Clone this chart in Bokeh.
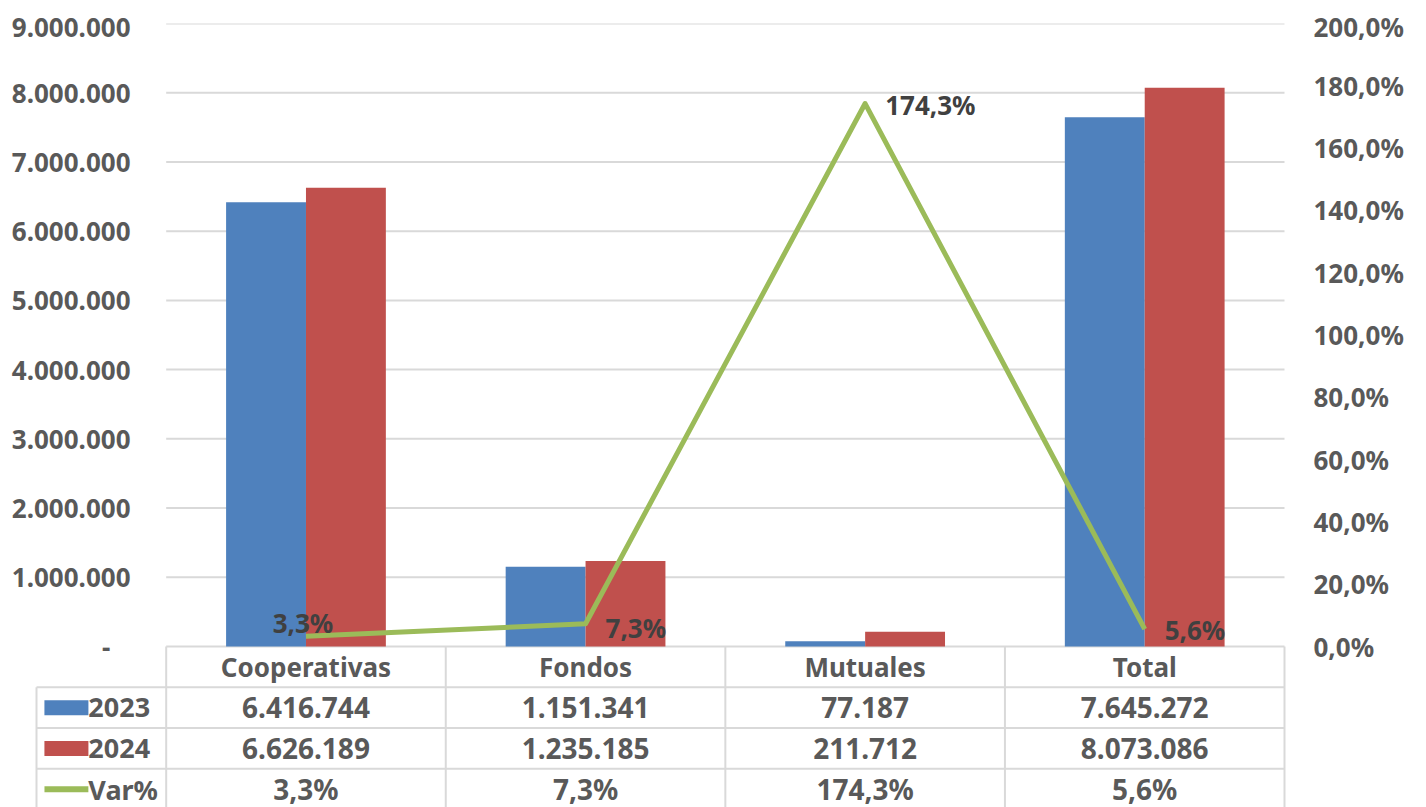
from bokeh.plotting import figure
from bokeh.models import Range1d, LinearAxis, FixedTicker, CustomJSTickFormatter, ColumnDataSource
from bokeh.core.properties import value
from bokeh.embed import file_html
from bokeh.resources import INLINE

# ---------------- data ----------------
categories = ["Cooperativas", "Fondos", "Mutuales", "Total"]
series_names = ["2023", "2024", "Var%"]
values_2023 = [6416744, 1151341, 77187, 7645272]
values_2024 = [6626189, 1235185, 211712, 8073086]
var_pct = [3.3, 7.3, 174.3, 5.6]
left_ticks = [0, 1000000, 2000000, 3000000, 4000000, 5000000, 6000000, 7000000, 8000000, 9000000]
right_ticks = [0, 20, 40, 60, 80, 100, 120, 140, 160, 180, 200]

# ---------------- style ----------------
FONT = "Noto Sans"
TXT = "#595959"
LBL = "#404040"
BLUE, RED, GREEN = "#4F81BD", "#C0504D", "#9BBB59"
GRID = "#D9D9D9"


def fmt_int(v):
    return f"{v:,}".replace(",", ".")


def fmt_pct(v):
    return f"{v:.1f}".replace(".", ",") + "%"


n = len(categories)
nrows = len(series_names)
centers = [i + 0.5 for i in range(n)]
bar_w = 2 / 7
PX = 280.25            # pixels per category
PLOT_H = 623.0         # pixels from 0 to top tick
BELOW = 161.0          # pixels of table below the zero line
ROW_PX = 40.75         # pixels per table row

ymax = left_ticks[-1]
pmax = right_ticks[-1]
row_h = ROW_PX / PLOT_H * ymax

p = figure(width=1410, height=799,
           x_range=Range1d(-133 / PX, 1124 / PX),
           y_range=Range1d(-BELOW / PLOT_H * ymax, ymax),
           output_backend="svg", toolbar_location=None,
           x_axis_location=None, y_axis_location="left",
           min_border_left=22, min_border_right=131,
           min_border_top=15, min_border_bottom=0,
           outline_line_color=None, background_fill_color="white",
           border_fill_color="white")
p.styles = {"position": "absolute", "top": "8px", "left": "8px"}
p.extra_y_ranges = {"pct": Range1d(-BELOW / PLOT_H * pmax, pmax)}
p.xgrid.visible = False
p.ygrid.visible = False

# ---- axes ----
ly = p.yaxis[0]
ly.ticker = FixedTicker(ticks=left_ticks)
ly.formatter = CustomJSTickFormatter(code=r"""
if (tick == 0) { return "-\u00a0\u00a0\u00a0"; }
return Math.round(tick).toString().replace(/\B(?=(\d{3})+(?!\d))/g, ".");
""")
ry = LinearAxis(y_range_name="pct", ticker=FixedTicker(ticks=right_ticks),
                formatter=CustomJSTickFormatter(code="return tick.toFixed(1).replace('.', ',') + '%';"))
p.add_layout(ry, "right")
for ax in (ly, ry):
    ax.axis_line_color = None
    ax.major_tick_line_color = None
    ax.minor_tick_line_color = None
    ax.major_label_text_font = FONT
    ax.major_label_text_font_style = "bold"
    ax.major_label_text_font_size = "26px"
    ax.major_label_text_color = TXT
ly.major_label_standoff = -103
ry.major_label_standoff = 20

# ---- gridlines (plot area only) ----
p.segment(x0=[0] * len(left_ticks), y0=left_ticks, x1=[n] * len(left_ticks), y1=left_ticks,
          line_color=GRID, line_width=2)

# ---- bars and line ----
p.vbar(x=[c - bar_w / 2 for c in centers], top=values_2023, width=bar_w,
       fill_color=BLUE, line_color=None)
p.vbar(x=[c + bar_w / 2 for c in centers], top=values_2024, width=bar_w,
       fill_color=RED, line_color=None)
p.line(centers, var_pct, y_range_name="pct", line_color=GREEN, line_width=5,
       line_join="round")

lab_src = ColumnDataSource(dict(
    x=centers, y=var_pct, t=[fmt_pct(v) for v in var_pct],
    align=["center", "left", "left", "left"],
    dx=[-3, 20, 20, 20], dy=[-13, 4, 1, 1]))
p.text(x="x", y="y", text="t", source=lab_src, y_range_name="pct",
       text_align="align", text_baseline="middle", x_offset="dx", y_offset="dy",
       text_font=value(FONT), text_font_style="bold", text_font_size="26px",
       text_color=LBL)

# ---------------- data table ----------------
left_edge = (33 - 163) / PX
sw0 = (41 - 163) / PX
sw1 = (85 - 163) / PX
bottom = -(nrows + 1) * row_h
bounds = list(range(n + 1))
p.segment(x0=bounds, y0=[0] * len(bounds), x1=bounds, y1=[bottom] * len(bounds),
          line_color=GRID, line_width=2)
p.segment(x0=[left_edge], y0=[-row_h], x1=[left_edge], y1=[bottom],
          line_color=GRID, line_width=2)
row_lines = [-(k + 1) * row_h for k in range(nrows)]
p.segment(x0=[left_edge] * nrows, y0=row_lines, x1=[n] * nrows, y1=row_lines,
          line_color=GRID, line_width=2)

base_style = dict(text_font=value(FONT), text_font_style="bold",
                  text_color=TXT, text_baseline="middle")
p.text(x=centers, y=[-0.5 * row_h] * n, text=categories, text_align="center",
       text_font_size="26px", **base_style)
rows_txt = [[fmt_int(v) for v in values_2023],
            [fmt_int(v) for v in values_2024],
            [fmt_pct(v) for v in var_pct]]
row_centers = [-(r + 1.5) * row_h for r in range(nrows)]
for r, txts in enumerate(rows_txt):
    p.text(x=centers, y=[row_centers[r]] * n, text=txts, text_align="center",
           text_font_size="28px", **base_style)
p.text(x=[sw1] * nrows, y=row_centers, text=series_names, text_align="left",
       text_font_size="27px", **base_style)

p.rect(x=[(sw0 + sw1) / 2] * 2, y=row_centers[:2], width=44, height=15,
       width_units="screen", height_units="screen",
       fill_color=[BLUE, RED], line_color=None)
p.segment(x0=[sw0], y0=[row_centers[2]], x1=[sw1], y1=[row_centers[2]],
          line_color=GREEN, line_width=6)

open("out.html", "w").write(file_html(p, INLINE))
